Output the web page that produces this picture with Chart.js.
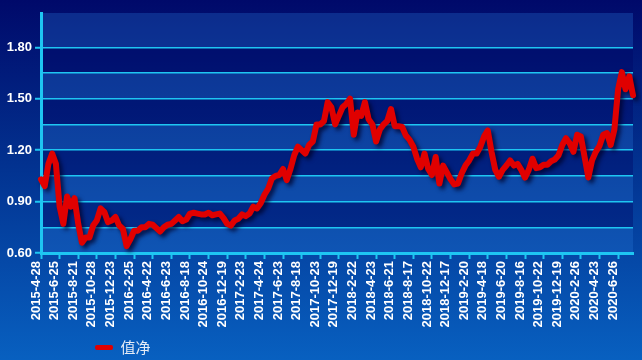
<!DOCTYPE html>
<html><head><meta charset="utf-8">
<script src="https://cdn.jsdelivr.net/npm/chart.js@4/dist/chart.umd.min.js"></script>
<style>
html,body{margin:0;padding:0;}
body{width:642px;height:360px;overflow:hidden;background:linear-gradient(to bottom,#00096a 0%,#02318f 45%,#0860c0 100%);}
canvas{display:block;}
</style></head><body>
<canvas id="c" width="642" height="360"></canvas>
<script>
// ---- data ----
const xLabels = ['2015-4-28','2015-6-25','2015-8-21','2015-10-28','2015-12-23','2016-2-25','2016-4-22','2016-6-23','2016-8-18','2016-10-24','2016-12-19','2017-2-23','2017-4-24','2017-6-23','2017-8-18','2017-10-23','2017-12-19','2018-2-22','2018-4-23','2018-6-21','2018-8-17','2018-10-22','2018-12-17','2019-2-20','2019-4-18','2019-6-20','2019-8-16','2019-10-22','2019-12-19','2020-2-26','2020-4-23','2020-6-26'];
const pointsPerLabel = 5; // values sampled 5 per label interval
const navValues = [
 1.03,0.99,1.12,1.18,1.12, 0.87,0.77,0.93,0.87,0.92,
 0.77,0.66,0.69,0.69,0.76, 0.79,0.86,0.84,0.78,0.79,
 0.81,0.76,0.74,0.64,0.68, 0.73,0.73,0.75,0.75,0.77,
 0.765,0.745,0.725,0.75,0.765, 0.77,0.79,0.81,0.785,0.795,
 0.83,0.835,0.83,0.825,0.825, 0.835,0.82,0.825,0.83,0.805,
 0.77,0.76,0.79,0.80,0.825, 0.815,0.83,0.87,0.86,0.89,
 0.94,0.975,1.035,1.05,1.055, 1.09,1.025,1.09,1.17,1.22,
 1.20,1.18,1.23,1.25,1.35, 1.35,1.37,1.48,1.45,1.35,
 1.40,1.45,1.47,1.50,1.29, 1.42,1.40,1.48,1.38,1.35,
 1.25,1.32,1.35,1.37,1.44, 1.34,1.34,1.335,1.285,1.26,
 1.22,1.15,1.10,1.18,1.09, 1.055,1.16,1.005,1.11,1.07,
 1.03,1.00,1.005,1.065,1.11, 1.14,1.18,1.18,1.22,1.28,
 1.315,1.19,1.085,1.045,1.085, 1.11,1.14,1.11,1.12,1.085,
 1.04,1.085,1.15,1.095,1.10, 1.115,1.115,1.135,1.145,1.17,
 1.23,1.27,1.24,1.19,1.29, 1.28,1.16,1.04,1.14,1.19,
 1.225,1.29,1.30,1.23,1.32, 1.555,1.655,1.555,1.63,1.52
];
const yTicks = [0.60,0.75,0.90,1.05,1.20,1.35,1.50,1.65,1.80];
const yLabeledTicks = [0.60,0.90,1.20,1.50,1.80];
const yMin = 0.6, yMax = 2.0;
const seriesName = '值净';

// ---- helpers ----
const CYAN = '#1ec6f2';
const isLabeled = v => yLabeledTicks.some(t => Math.abs(t - v) < 1e-6);

const bandsPlugin = {
  id: 'bands',
  beforeDraw(chart) {
    const {ctx, chartArea: a, scales: {y}} = chart;
    const edges = [...yTicks, y.max];
    ctx.save();
    for (let i = 0; i < edges.length - 1; i++) {
      const top = y.getPixelForValue(edges[i + 1]);
      const bot = y.getPixelForValue(edges[i]);
      ctx.fillStyle = i % 2 === 0 ? 'rgba(40,120,215,0.30)' : 'rgba(0,6,100,0.38)';
      ctx.fillRect(a.left, top, a.right - a.left, bot - top);
    }
    ctx.restore();
  }
};
const shadowPlugin = {
  id: 'lineShadow',
  beforeDatasetDraw(chart) {
    const c = chart.ctx; c.save();
    c.shadowColor = 'rgba(0,0,40,0.75)'; c.shadowBlur = 4; c.shadowOffsetX = 3; c.shadowOffsetY = 3;
  },
  afterDatasetDraw(chart) { chart.ctx.restore(); }
};
const legendShift = {
  id: 'legendShift',
  afterUpdate(chart) {
    const lg = chart.legend;
    lg.left += 89; lg.right += 89;
    lg.top += 5; lg.bottom += 5;
    lg.adjustHitBoxes();
  }
};

new Chart(document.getElementById('c'), {
  type: 'line',
  data: {
    datasets: [{
      label: seriesName,
      data: navValues.map((v, i) => ({x: i / pointsPerLabel, y: v})),
      borderColor: '#e00000',
      backgroundColor: '#e00000',
      borderWidth: 6,
      pointRadius: 0,
      tension: 0,
      borderJoinStyle: 'round',
      borderCapStyle: 'round',
      clip: 8
    }]
  },
  options: {
    responsive: false,
    animation: false,
    events: [],
    layout: {padding: {top: 13, right: 9, left: 0, bottom: 0}},
    scales: {
      x: {
        type: 'linear',
        min: 0,
        max: (navValues.length - 1) / pointsPerLabel,
        afterBuildTicks: s => { s.ticks = xLabels.map((_, i) => ({value: i})); },
        afterFit: s => { s.height = 76; },
        ticks: {
          autoSkip: false, minRotation: 90, maxRotation: 90,
          color: '#ffffff', padding: 2, labelOffset: -5,
          font: {family: 'Liberation Sans, Arial, sans-serif', size: 13, weight: 'bold'},
          callback: v => xLabels[Math.round(v)] ?? ''
        },
        grid: {drawOnChartArea: false, drawTicks: true, tickLength: 6, tickColor: CYAN, tickWidth: 2},
        border: {color: CYAN, width: 3}
      },
      y: {
        type: 'linear',
        min: yMin, max: yMax,
        afterBuildTicks: s => { s.ticks = yTicks.map(v => ({value: v})); },
        afterFit: s => { s.width = 41; },
        ticks: {
          color: '#ffffff', padding: 3,
          font: {family: 'Liberation Sans, Arial, sans-serif', size: 13, weight: 'bold'},
          callback: v => isLabeled(v) ? Number(v).toFixed(2) : ''
        },
        grid: {
          color: CYAN, lineWidth: 1.5, tickLength: 6, tickWidth: 2,
          tickColor: ctx => (ctx.tick && isLabeled(ctx.tick.value)) ? CYAN : 'rgba(0,0,0,0)'
        },
        border: {color: CYAN, width: 3}
      }
    },
    plugins: {
      tooltip: {enabled: false},
      legend: {
        display: true, position: 'bottom', align: 'start',
        labels: {
          boxWidth: 18, boxHeight: 5, padding: 6,
          color: '#e6ecf6',
          font: {family: '"Noto Sans CJK SC", sans-serif', size: 15},
          generateLabels: chart => [{
            text: seriesName, fillStyle: '#e00000', strokeStyle: '#e00000',
            lineWidth: 0, borderRadius: 2, datasetIndex: 0, hidden: false, fontColor: '#e6ecf6'
          }]
        }
      }
    }
  },
  plugins: [bandsPlugin, shadowPlugin, legendShift]
});
</script>
</body></html>
